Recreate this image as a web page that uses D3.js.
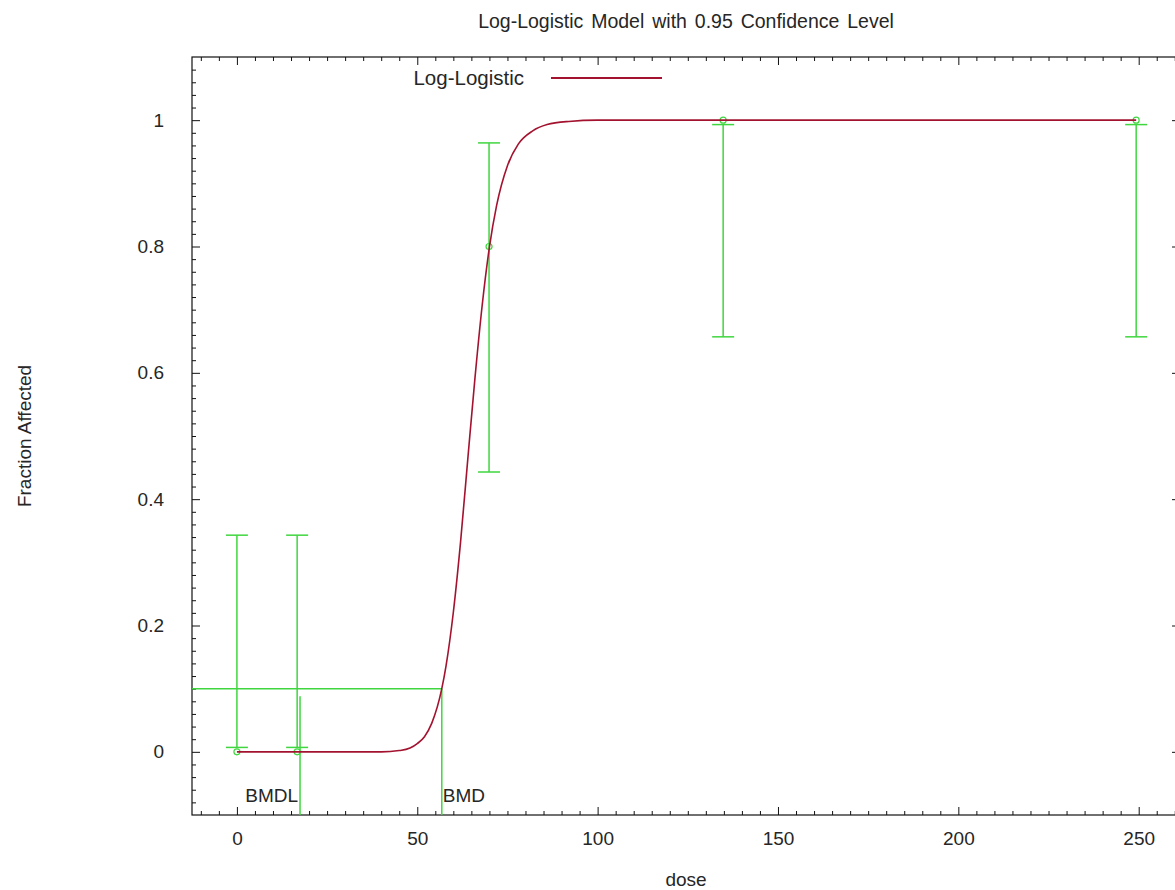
<!DOCTYPE html>
<html>
<head>
<meta charset="utf-8">
<script src="https://cdn.jsdelivr.net/npm/d3@7"></script>
<style>
  body { margin: 0; background: #fff; }
  text { font-family: "Liberation Sans", Arial, sans-serif; fill: #262626; }
</style>
</head>
<body>
<div id="container"></div>
<script>
// observed data (dose groups) with 95% confidence limits
let doses = [0, 16.7, 69.9, 134.8, 249.3];
let fractions = [0, 0, 0.8, 1, 1];
let lowerCL = [0.007, 0.007, 0.443, 0.657, 0.657];
let upperCL = [0.343, 0.343, 0.964, 0.993, 0.993];

// log-logistic curve
let curveDoses = [0, 40, 45, 48, 50, 52, 54, 56.8, 58, 60, 62, 64, 66, 68, 70, 72, 75, 78, 82, 86, 92, 100, 249.3];
let curveFractions = [0, 0, 0.002, 0.006, 0.013, 0.024, 0.045, 0.1, 0.137, 0.221, 0.332, 0.463, 0.592, 0.707, 0.799, 0.865, 0.928, 0.962, 0.983, 0.993, 0.998, 1, 1];

// benchmark dose markers
let bmr = 0.1;
let bmd = 56.8;
let bmdl = 17.5;
let bmdlTop = 0.088;

let xTicks = [0, 50, 100, 150, 200, 250];
let yTicks = [0, 0.2, 0.4, 0.6, 0.8, 1];

let w = 1175;
let h = 890;
let plotLeft = 192, plotRight = 1180, plotTop = 57, plotBottom = 815;
let plotMid = (plotLeft + plotRight) / 2;

let GREEN = '#3fd63f';
let RED = '#a3132f';

let viz = d3.select('#container')
    .append('svg')
    .attr('width', w)
    .attr('height', h)
    .style('display', 'block');

viz.append('rect').attr('width', w).attr('height', h).attr('fill', '#fff');

let xScale = d3.scaleLinear().domain([-12.45, 261.45]).range([plotLeft, plotRight]);
let yScale = d3.scaleLinear().domain([-0.1, 1.1]).range([plotBottom, plotTop]);

// AXES (gnuplot style: ticks inward on every side)
let xMinorVals = d3.range(-10, 262, 5).filter(d => d % 50 != 0);
let yMinorVals = d3.range(-4, 55).map(d => d * 0.02).filter((d, i) => (i - 4 + 100) % 10 != 0);

let xAxisB = d3.axisBottom(xScale).tickValues(xTicks).tickSizeInner(-8).tickSizeOuter(0).tickPadding(17).tickFormat(d3.format('d'));
let xMinorB = d3.axisBottom(xScale).tickValues(xMinorVals).tickSizeInner(-4).tickSizeOuter(0).tickFormat('');
let xAxisT = d3.axisTop(xScale).tickValues(xTicks).tickSizeInner(-8).tickSizeOuter(0).tickFormat('');
let xMinorT = d3.axisTop(xScale).tickValues(xMinorVals).tickSizeInner(-4).tickSizeOuter(0).tickFormat('');
let yAxisL = d3.axisLeft(yScale).tickValues(yTicks).tickSizeInner(-8).tickSizeOuter(0).tickPadding(28).tickFormat(d => d3.format('~g')(d));
let yMinorL = d3.axisLeft(yScale).tickValues(yMinorVals).tickSizeInner(-4).tickSizeOuter(0).tickFormat('');
let yAxisR = d3.axisRight(yScale).tickValues(yTicks).tickSizeInner(-8).tickSizeOuter(0).tickFormat('');

viz.append('g').attr('transform', `translate(0,${plotBottom})`).call(xAxisB);
viz.append('g').attr('transform', `translate(0,${plotBottom})`).call(xMinorB);
viz.append('g').attr('transform', `translate(0,${plotTop})`).call(xAxisT);
viz.append('g').attr('transform', `translate(0,${plotTop})`).call(xMinorT);
viz.append('g').attr('transform', `translate(${plotLeft},0)`).call(yAxisL);
viz.append('g').attr('transform', `translate(${plotLeft},0)`).call(yMinorL);
viz.append('g').attr('transform', `translate(${plotRight},0)`).call(yAxisR);

viz.selectAll('.domain').remove();
viz.selectAll('.tick line').attr('stroke', '#111');
viz.selectAll('.tick text').attr('font-size', 19).attr('fill', '#262626');

viz.append('rect')
    .attr('x', plotLeft).attr('y', plotTop)
    .attr('width', plotRight - plotLeft).attr('height', plotBottom - plotTop)
    .attr('fill', 'none').attr('stroke', '#111').attr('stroke-width', 1.2);

// LABELS (title and xlabel centred over the plot, as gnuplot does)
viz.append('text').attr('x', plotMid).attr('y', 28).attr('text-anchor', 'middle')
    .attr('font-size', 19.5).attr('word-spacing', 2.5)
    .text('Log-Logistic Model with 0.95 Confidence Level');
viz.append('text').attr('x', plotMid).attr('y', 886).attr('text-anchor', 'middle')
    .attr('font-size', 19).text('dose');
viz.append('text').attr('transform', `translate(31,${(plotTop + plotBottom) / 2}) rotate(-90)`).attr('text-anchor', 'middle')
    .attr('font-size', 19).text('Fraction Affected');

// legend
viz.append('text').attr('x', 524).attr('y', 85).attr('text-anchor', 'end')
    .attr('font-size', 20.5).text('Log-Logistic');
viz.append('line').attr('x1', 551).attr('x2', 662).attr('y1', 78).attr('y2', 78)
    .attr('stroke', RED).attr('stroke-width', 1.8);

let plot = viz.append('g');

// BMR / BMD / BMDL lines
plot.append('line')
    .attr('x1', xScale.range()[0]).attr('x2', xScale(bmd))
    .attr('y1', yScale(bmr)).attr('y2', yScale(bmr))
    .attr('stroke', GREEN).attr('stroke-width', 1.5);
plot.append('line')
    .attr('x1', xScale(bmd)).attr('x2', xScale(bmd))
    .attr('y1', yScale(bmr)).attr('y2', yScale.range()[0])
    .attr('stroke', GREEN).attr('stroke-width', 1.5);
plot.append('line')
    .attr('x1', xScale(bmdl)).attr('x2', xScale(bmdl))
    .attr('y1', yScale(bmdlTop)).attr('y2', yScale.range()[0])
    .attr('stroke', GREEN).attr('stroke-width', 1.5);

plot.append('text').attr('x', xScale(bmdl) - 2).attr('y', plotBottom - 13)
    .attr('text-anchor', 'end').attr('font-size', 19).text('BMDL');
plot.append('text').attr('x', xScale(bmd) + 1).attr('y', plotBottom - 13)
    .attr('font-size', 19).text('BMD');

// error bars
let bars = plot.selectAll('.bar').data(doses.map((d, i) => ({dose: d, f: fractions[i], lo: lowerCL[i], hi: upperCL[i]})))
    .enter().append('g').classed('bar', true);
bars.append('line')
    .attr('x1', d => xScale(d.dose)).attr('x2', d => xScale(d.dose))
    .attr('y1', d => yScale(d.lo)).attr('y2', d => yScale(d.hi))
    .attr('stroke', GREEN).attr('stroke-width', 1.5);
bars.append('line')
    .attr('x1', d => xScale(d.dose) - 11).attr('x2', d => xScale(d.dose) + 11)
    .attr('y1', d => yScale(d.lo)).attr('y2', d => yScale(d.lo))
    .attr('stroke', GREEN).attr('stroke-width', 1.5);
bars.append('line')
    .attr('x1', d => xScale(d.dose) - 11).attr('x2', d => xScale(d.dose) + 11)
    .attr('y1', d => yScale(d.hi)).attr('y2', d => yScale(d.hi))
    .attr('stroke', GREEN).attr('stroke-width', 1.5);

// fitted curve
let line = d3.line()
    .x((d, i) => xScale(curveDoses[i]))
    .y(d => yScale(d))
    .curve(d3.curveMonotoneX);
plot.append('path')
    .attr('d', line(curveFractions))
    .attr('fill', 'none').attr('stroke', RED).attr('stroke-width', 1.6);

// data points
bars.append('circle')
    .attr('cx', d => xScale(d.dose)).attr('cy', d => yScale(d.f)).attr('r', 3)
    .attr('fill', 'none').attr('stroke', GREEN).attr('stroke-width', 1.2);
</script>
</body>
</html>
